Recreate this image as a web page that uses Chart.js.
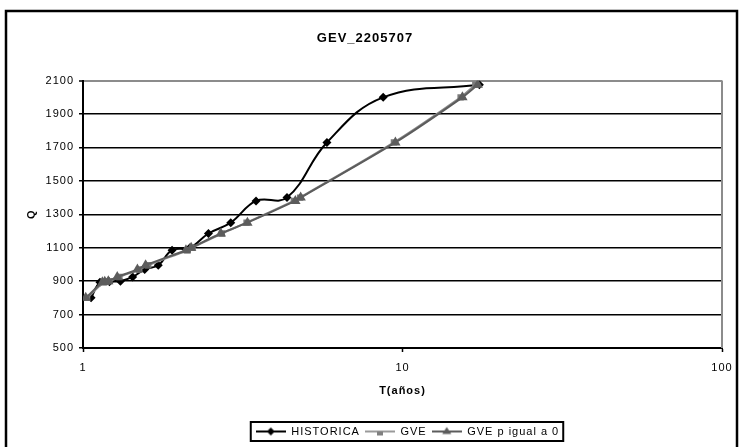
<!DOCTYPE html>
<html>
<head>
<meta charset="utf-8">
<title>GEV_2205707</title>
<script src="https://cdn.jsdelivr.net/npm/chart.js@4.4.1/dist/chart.umd.min.js"></script>
<style>
  html, body { margin: 0; padding: 0; background: #fff; }
  #wrap { width: 743px; height: 447px; }
</style>
</head>
<body>
<div id="wrap"><canvas id="gevChart" width="743" height="447"></canvas></div>
<script>
// caudal (Q) ordenado de mayor a menor, comun a las tres series
const qValues = [2075, 2000, 1730, 1400, 1380, 1250, 1185, 1100, 1085, 995, 970, 925, 900, 897, 893, 800];
// periodo de retorno empirico y ajustado para cada caudal
const tHistorica = [17.4, 8.7, 5.8, 4.35, 3.48, 2.9, 2.47, 2.16, 1.9, 1.72, 1.56, 1.43, 1.31, 1.21, 1.13, 1.06];
const tGve = [16.9, 15.2, 9.4, 4.78, 4.57, 3.25, 2.72, 2.2, 2.12, 1.6, 1.5, 1.3, 1.21, 1.18, 1.16, 1.03];
const tGveP0 = [17.2, 15.4, 9.5, 4.8, 4.62, 3.27, 2.7, 2.18, 2.1, 1.57, 1.48, 1.28, 1.2, 1.17, 1.15, 1.02];

const seriesNames = ["HISTORICA", "GVE", "GVE p igual a 0"];
const xTickValues = [1, 10, 100];
const yTickValues = [500, 700, 900, 1100, 1300, 1500, 1700, 1900, 2100];

const FONT = "'Liberation Sans', Arial, sans-serif";

function toPoints(tList) {
  return tList.map((t, i) => ({ x: t, y: qValues[i] }));
}

// small line + marker samples for the legend
function legendIcon(lineColor, markerColor, marker) {
  const c = document.createElement("canvas");
  c.width = 30;
  c.height = 12;
  const g = c.getContext("2d");
  g.strokeStyle = lineColor;
  g.lineWidth = 2;
  g.beginPath();
  g.moveTo(0, 6);
  g.lineTo(30, 6);
  g.stroke();
  g.fillStyle = markerColor;
  g.beginPath();
  if (marker === "diamond") {
    g.moveTo(15, 2); g.lineTo(19, 6); g.lineTo(15, 10); g.lineTo(11, 6);
  } else if (marker === "square") {
    g.rect(12, 6, 6, 4);
  } else {
    g.moveTo(15, 1.5); g.lineTo(19.5, 8.5); g.lineTo(10.5, 8.5);
  }
  g.closePath();
  g.fill();
  return c;
}

const legendIcons = [
  legendIcon("#000000", "#000000", "diamond"),
  legendIcon("#9a9a9a", "#808080", "square"),
  legendIcon("#5c5c5c", "#5c5c5c", "triangle"),
];

// spaced lettering for every text the chart draws
const spacingPlugin = {
  id: "spacing",
  beforeUpdate(chart) { chart.ctx.letterSpacing = "1px"; },
  beforeDraw(chart) { chart.ctx.letterSpacing = "1px"; },
};

const framePlugin = {
  id: "frame",
  afterLayout(chart) {
    // legend sits under the plot area, not under the whole canvas
    const lg = chart.legend;
    lg.left += 85;
    lg.width = lg.right - lg.left;
  },
  beforeDraw(chart) {
    const ctx = chart.ctx;
    ctx.save();
    ctx.fillStyle = "#ffffff";
    ctx.fillRect(0, 0, chart.width, chart.height);
    ctx.restore();
  },
  afterDraw(chart) {
    const ctx = chart.ctx;
    const area = chart.chartArea;
    ctx.save();
    // outer border of the chart
    ctx.strokeStyle = "#000000";
    ctx.lineWidth = 2.5;
    ctx.strokeRect(6, 11, chart.width - 12, chart.height + 10);
    // right edge of the plot area
    ctx.strokeStyle = "#8c8c8c";
    ctx.lineWidth = 2;
    ctx.beginPath();
    ctx.moveTo(area.right, area.top);
    ctx.lineTo(area.right, area.bottom);
    ctx.stroke();
    // box around the legend
    const boxes = chart.legend.legendHitBoxes;
    if (boxes && boxes.length) {
      const left = Math.min(...boxes.map(b => b.left)) - 5;
      const right = Math.max(...boxes.map(b => b.left + b.width)) + 4;
      const top = Math.min(...boxes.map(b => b.top)) - 4;
      const bottom = Math.max(...boxes.map(b => b.top + b.height)) + 4;
      ctx.strokeStyle = "#000000";
      ctx.lineWidth = 2;
      ctx.strokeRect(left, top, right - left, bottom - top);
    }
    ctx.restore();
  },
};

const ctx = document.getElementById("gevChart").getContext("2d");
new Chart(ctx, {
  type: "line",
  data: {
    datasets: [
      {
        label: seriesNames[0],
        data: toPoints(tHistorica),
        borderColor: "#000000",
        backgroundColor: "#000000",
        borderWidth: 2,
        tension: 0.4,
        pointStyle: "rectRot",
        pointRadius: 4.5,
        pointBorderWidth: 0,
        order: 2,
      },
      {
        label: seriesNames[1],
        data: toPoints(tGve),
        borderColor: "#8a8a8a",
        backgroundColor: "#7a7a7a",
        borderWidth: 2,
        tension: 0.3,
        pointStyle: "rect",
        pointRadius: 4.5,
        pointBorderWidth: 0,
        order: 1,
      },
      {
        label: seriesNames[2],
        data: toPoints(tGveP0),
        borderColor: "#5c5c5c",
        backgroundColor: "#5c5c5c",
        borderWidth: 2,
        tension: 0.3,
        pointStyle: "triangle",
        pointRadius: 6,
        pointBorderWidth: 0,
        order: 0,
      },
    ],
  },
  options: {
    responsive: false,
    animation: false,
    layout: { padding: { left: 8, right: 21, top: 12, bottom: 0 } },
    plugins: {
      tooltip: { enabled: false },
      title: {
        display: true,
        text: "GEV_2205707",
        color: "#000000",
        font: { family: FONT, size: 13, weight: "bold" },
        padding: { top: 19, bottom: 34 },
      },
      legend: {
        position: "bottom",
        labels: {
          usePointStyle: true,
          pointStyleWidth: 30,
          boxHeight: 11,
          padding: 5,
          color: "#000000",
          font: { family: FONT, size: 11 },
          generateLabels(chart) {
            return chart.data.datasets.map((ds, i) => ({
              text: ds.label,
              pointStyle: legendIcons[i],
              datasetIndex: i,
              fontColor: "#000000",
              fillStyle: "transparent",
              strokeStyle: "transparent",
              lineWidth: 0,
              hidden: false,
            }));
          },
        },
      },
    },
    scales: {
      x: {
        type: "logarithmic",
        min: 1,
        max: 100,
        afterBuildTicks(axis) {
          axis.ticks = xTickValues.map(v => ({ value: v }));
        },
        afterFit(axis) {
          axis.height = 73;
        },
        border: { color: "#000000", width: 2 },
        grid: {
          drawOnChartArea: false,
          drawTicks: true,
          tickLength: 4,
          tickColor: "#000000",
          tickWidth: 1.5,
        },
        ticks: {
          color: "#000000",
          padding: 9,
          autoSkip: false,
          maxRotation: 0,
          font: { family: FONT, size: 11 },
          callback: v => String(v),
        },
        title: {
          display: true,
          text: "T(años)",
          color: "#000000",
          font: { family: FONT, size: 11, weight: "bold" },
          padding: { top: 8, bottom: 23 },
        },
      },
      y: {
        type: "linear",
        min: 500,
        max: 2100,
        afterBuildTicks(axis) {
          axis.ticks = yTickValues.map(v => ({ value: v }));
        },
        afterFit(axis) {
          axis.width = 75;
        },
        border: { color: "#000000", width: 2 },
        grid: {
          color: c => (c.tick && c.tick.value === 2100 ? "#8c8c8c" : "#000000"),
          lineWidth: c => (c.tick && c.tick.value === 2100 ? 2 : 1.5),
          tickLength: 4,
          tickColor: "#000000",
          tickWidth: 1.5,
        },
        ticks: {
          color: "#000000",
          padding: 5,
          font: { family: FONT, size: 11 },
          callback: v => String(v),
        },
        title: {
          display: true,
          text: "Q",
          color: "#000000",
          font: { family: FONT, size: 11, weight: "bold" },
          padding: { top: 17, bottom: 0 },
        },
      },
    },
  },
  plugins: [spacingPlugin, framePlugin],
});
</script>
</body>
</html>
